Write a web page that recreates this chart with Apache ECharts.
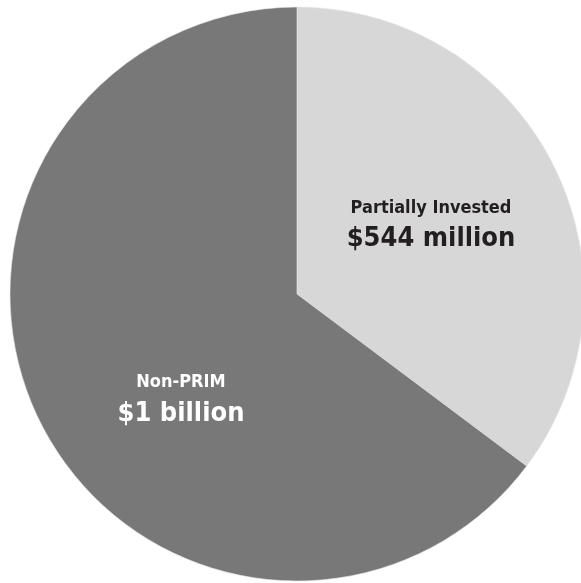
<!DOCTYPE html>
<html>
<head>
<meta charset="utf-8">
<script src="https://cdn.jsdelivr.net/npm/echarts@6/dist/echarts.min.js"></script>
<style>
  html, body { margin: 0; padding: 0; background: #ffffff; }
  #chart { width: 581px; height: 583px; }
</style>
</head>
<body>
<div id="chart"></div>
<script>
// Fund allocation, in millions of dollars
const categories = ['Partially Invested', 'Non-PRIM'];
const values = [544, 1000];
const valueLabels = ['$544 million', '$1 billion'];

const sliceColors = ['#d7d7d7', '#787878'];
const textColors = ['#231f20', '#ffffff'];
const labelOffsets = [[3, -3], [15, 40]];
const labelFont = "'DejaVu Sans Condensed', 'Liberation Sans Narrow', 'Arial Narrow', sans-serif";

const chart = echarts.init(document.getElementById('chart'), null, { renderer: 'canvas' });

const data = categories.map((name, i) => ({
  name: name,
  value: values[i],
  itemStyle: { color: sliceColors[i] },
  label: {
    offset: labelOffsets[i],
    formatter: '{a|' + name + '}\n{b|' + valueLabels[i] + '}',
    rich: {
      a: { fontFamily: labelFont, fontWeight: 'bold', fontSize: 18, color: textColors[i], lineHeight: 28, align: 'center' },
      b: { fontFamily: labelFont, fontWeight: 'bold', fontSize: 27, color: textColors[i], lineHeight: 34, align: 'center' }
    }
  }
}));

chart.setOption({
  animation: false,
  backgroundColor: '#ffffff',
  series: [{
    type: 'pie',
    center: [297, 294],
    radius: 287,
    startAngle: 90,
    clockwise: true,
    silent: true,
    itemStyle: { borderColor: '#e8e8e8', borderWidth: 0.6 },
    label: { show: true, position: 'inside' },
    labelLine: { show: false },
    data: data
  }]
});
</script>
</body>
</html>
